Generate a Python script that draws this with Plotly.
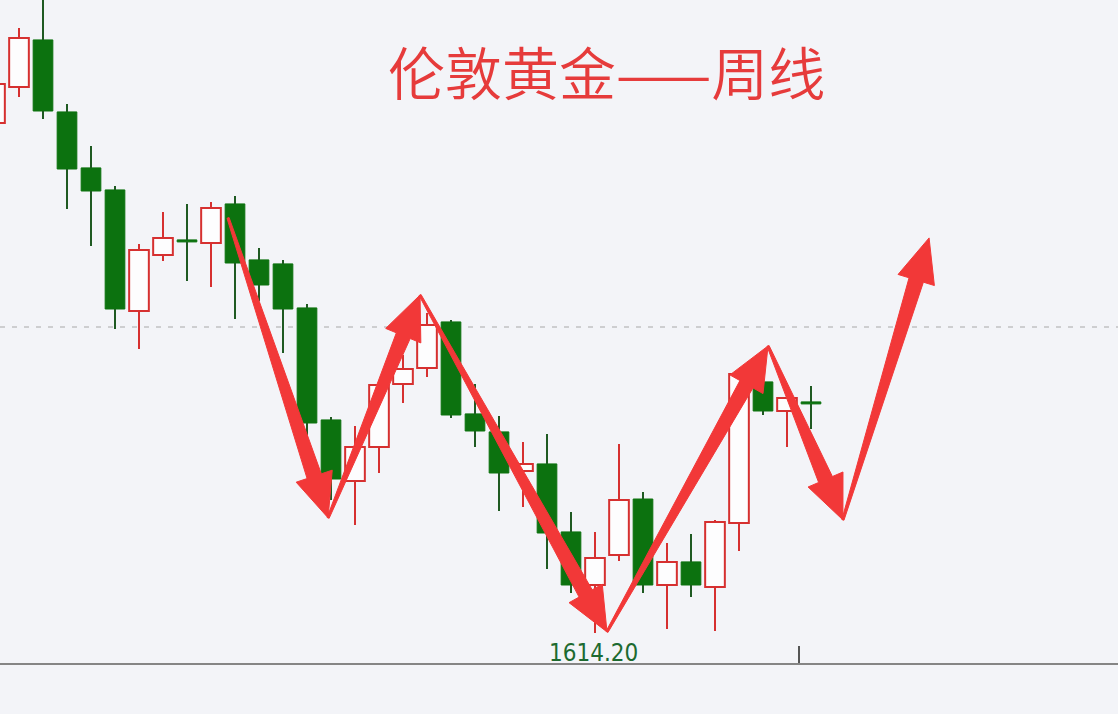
import numpy as np
import plotly.graph_objects as go

# ---------------- data ----------------
weeks = list(range(35))
opens = [1894.7, 1914.5, 1940.4, 1900.8, 1870.0, 1857.9, 1791.3, 1822.1, 1830.4, 1828.7,
         1850.2, 1819.4, 1817.2, 1793.0, 1731.4, 1697.8, 1716.5, 1751.2, 1760.0, 1785.3,
         1734.7, 1724.8, 1703.3, 1707.2, 1669.8, 1640.6, 1657.1, 1687.9, 1640.6, 1653.3,
         1639.5, 1674.7, 1752.3, 1736.3, 1741.3]
highs = [1918.4, 1947.0, 1967.9, 1905.2, 1882.1, 1860.1, 1828.2, 1845.8, 1850.2, 1851.3,
         1854.6, 1826.0, 1819.4, 1795.2, 1733.0, 1728.1, 1752.3, 1767.1, 1790.2, 1786.4,
         1751.2, 1733.6, 1719.3, 1723.7, 1680.8, 1669.8, 1718.2, 1691.8, 1663.7, 1668.7,
         1676.4, 1757.8, 1753.4, 1744.6, 1750.1]
lows = [1893.1, 1909.0, 1896.9, 1847.4, 1827.1, 1781.4, 1770.4, 1818.8, 1807.8, 1804.5,
        1786.9, 1796.8, 1768.2, 1720.4, 1687.4, 1673.6, 1702.2, 1740.7, 1755.0, 1732.5,
        1716.5, 1681.3, 1683.5, 1649.4, 1636.2, 1614.2, 1653.8, 1636.2, 1616.4, 1634.0,
        1615.3, 1659.3, 1734.1, 1716.5, 1726.4]
closes = [1916.2, 1941.5, 1901.3, 1869.4, 1857.3, 1792.4, 1824.9, 1831.5, 1829.3, 1848.0,
          1817.7, 1805.6, 1792.4, 1729.7, 1698.9, 1716.5, 1750.6, 1759.4, 1783.6, 1734.1,
          1725.3, 1702.2, 1707.2, 1669.2, 1640.6, 1655.5, 1687.4, 1640.6, 1653.3, 1640.6,
          1675.3, 1756.7, 1736.3, 1743.5, 1740.2]

ref_level = 1782.5          # dashed horizontal level
low_label = "1614.20"
low_week = 25
low_price = 1614.2
period_tick = [33.5]        # period separator tick on the time axis

# hand-drawn swing arrows (week index, price)
swing_x = [9.71, 13.88, 17.71, 25.5, 32.21, 35.33, 38.92]
swing_p = [1842.5, 1677.5, 1800.1, 1614.8, 1772.1, 1676.4, 1831.5]

title_text = "伦敦黄金——周线"

# ---------------- styles ----------------
W, H = 1118, 714
MB = 51
PH = H - MB
X_RANGE = [0.2083, 46.7917]
Y_RANGE = [1597.7, 1962.35]
BG = "#f3f4f8"
RED = "#d63030"
RED_FILL = "#fdfdfe"
GREEN = "#0c720f"
GREEN_WICK = "#1f5a22"
ARROW = "#f23838"

fig = go.Figure()

# wicks
for up, col in [(True, RED), (False, GREEN_WICK)]:
    xs, ys = [], []
    for i, o, h, l, c in zip(weeks, opens, highs, lows, closes):
        if (c >= o) != up:
            continue
        top, bot = max(o, c), min(o, c)
        xs += [i, i, None, i, i, None]
        ys += [top, h, None, l, bot, None]
    fig.add_trace(go.Scatter(x=xs, y=ys, mode="lines",
                             line=dict(color=col, width=2),
                             hoverinfo="skip", showlegend=False))

# bodies
for up, fill, line, lw in [(True, RED_FILL, RED, 2), (False, GREEN, GREEN, 1)]:
    bx, bb, bh = [], [], []
    for i, o, c in zip(weeks, opens, closes):
        if (c >= o) != up:
            continue
        bx.append(i)
        bb.append(min(o, c))
        bh.append(max(abs(c - o), 1.0))
    fig.add_trace(go.Bar(x=bx, y=bh, base=bb, width=0.82,
                         marker=dict(color=fill, line=dict(color=line, width=lw)),
                         hoverinfo="skip", showlegend=False))

# tapered arrows, computed in pixel space then mapped back to data
sx = W / (X_RANGE[1] - X_RANGE[0])
sy = PH / (Y_RANGE[1] - Y_RANGE[0])


def to_px(x, p):
    return np.array([(x - X_RANGE[0]) * sx, (Y_RANGE[1] - p) * sy])


def to_data(pt):
    return pt[0] / sx + X_RANGE[0], Y_RANGE[1] - pt[1] / sy


for k in range(len(swing_x) - 1):
    T = to_px(swing_x[k], swing_p[k])
    P = to_px(swing_x[k + 1], swing_p[k + 1])
    d = P - T
    L = np.hypot(*d)
    u = d / L
    n = np.array([-u[1], u[0]])
    hl, hw, wn, wt = 44.0, 19.0, 15.0, 2.2
    N = P - u * hl
    pts = [T + n * wt / 2, N + n * wn / 2, N + n * hw, P,
           N - n * hw, N - n * wn / 2, T - n * wt / 2]
    ax, ay = zip(*[to_data(p) for p in pts])
    fig.add_trace(go.Scatter(x=list(ax) + [ax[0]], y=list(ay) + [ay[0]],
                             mode="lines", fill="toself", fillcolor=ARROW,
                             line=dict(color=ARROW, width=1),
                             hoverinfo="skip", showlegend=False))

# dashed level
fig.add_shape(type="line", xref="paper", x0=0, x1=1, yref="y",
              y0=ref_level, y1=ref_level, layer="below",
              line=dict(color="#a8a8a8", width=1, dash="5px,7px"))

# low label
fig.add_annotation(x=low_week - 0.08, y=low_price, text=low_label, showarrow=False,
                   yanchor="top", yshift=-4,
                   font=dict(family="DejaVu Sans Condensed, DejaVu Sans", size=24,
                             color="#1d6a30"))

# title
fig.add_annotation(xref="paper", yref="paper", x=606 / W, y=(PH - 70) / PH,
                   text=title_text, showarrow=False, xanchor="center", yanchor="middle",
                   font=dict(family="Noto Sans CJK SC", size=57, color="#e63b3b",
                             weight=350))

fig.update_layout(
    width=W, height=H,
    margin=dict(l=0, r=0, t=0, b=MB),
    paper_bgcolor=BG, plot_bgcolor=BG,
    barmode="overlay", showlegend=False, hovermode=False,
    xaxis=dict(range=X_RANGE, showgrid=False, zeroline=False, showline=True,
               linecolor="#858585", linewidth=2, ticks="inside", tickvals=period_tick,
               ticklen=17, tickwidth=1.5, tickcolor="#555555", showticklabels=False,
               fixedrange=True),
    yaxis=dict(range=Y_RANGE, showgrid=False, zeroline=False, showline=False,
               showticklabels=False, fixedrange=True),
)

fig.write_html("out.html", config={"displayModeBar": False},
               post_script="document.body.style.margin='0px';")
